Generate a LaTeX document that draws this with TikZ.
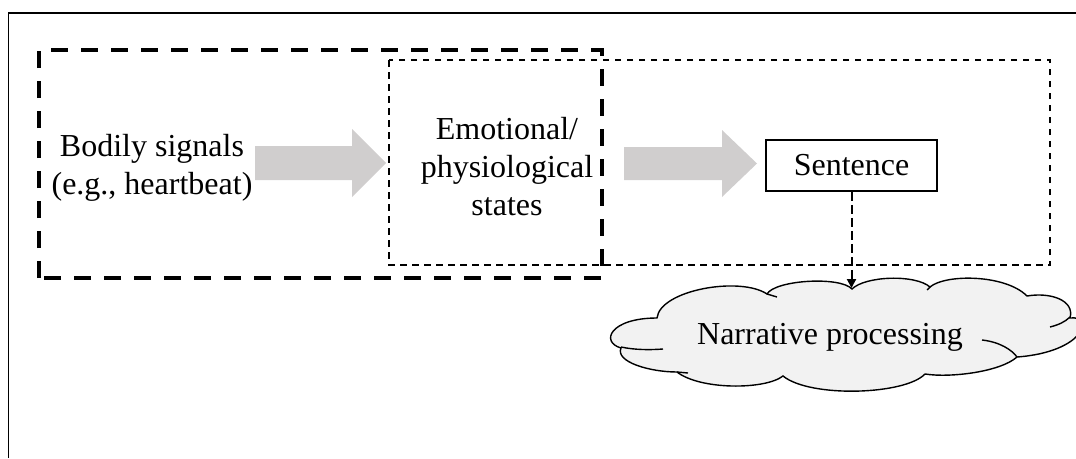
\documentclass[tikz,border=0pt]{standalone}
\usepackage{fontspec}
\setmainfont{Liberation Serif}
\usetikzlibrary{arrows.meta}
\definecolor{arrowgray}{HTML}{D0CECE}
\definecolor{cloudfill}{HTML}{F2F2F2}
\tikzset{
  lbl/.style={align=center, inner sep=0pt, font=\fontsize{32}{38}\selectfont},
  outerbox/.style={draw=black, line width=3.5pt, dash pattern=on 17pt off 13pt},
  innerbox/.style={draw=black, line width=1.3pt, dash pattern=on 6.5pt off 5.5pt},
  bigarrow/.style={fill=arrowgray, draw=none},
  sentbox/.style={draw=black, line width=1.5pt, minimum width=171pt, minimum height=51pt, inner sep=0pt, font=\fontsize{32}{38}\selectfont},
  cloudline/.style={draw=black, line width=1.4pt},
  linkarrow/.style={draw=black, line width=2pt, dash pattern=on 9pt off 4pt, -{Triangle[length=9pt,width=9pt]}}
}
\begin{document}
\begin{tikzpicture}[x=1pt, y=-1pt]
\useasboundingbox (0,0) rectangle (1076,458);
% outer frame
\draw[line width=1.4pt] (8.5,458) -- (8.5,13) -- (1076,13);
% thin dashed box
\draw[innerbox] (389,60) rectangle (1050,265);
% thick dashed box
\draw[outerbox] (39,278) -- (39,50) -- (602,50) -- (602,278) -- cycle;
% gray block arrows
\fill[bigarrow] (255,146) -- (352,146) -- (352,129) -- (386,163) -- (352,197) -- (352,180) -- (255,180) -- cycle;
\fill[bigarrow] (624,147) -- (722,147) -- (722,130) -- (757,163.5) -- (722,197) -- (722,180) -- (624,180) -- cycle;
% texts
\node[lbl] (bodily) at (152,168) {Bodily signals\\(e.g., heartbeat)};
\node[lbl] (emo) at (507,167) {Emotional/\\physiological\\states};
\node[sentbox] (sent) at (851.5,165.5) {Sentence};
% cloud
\path[fill=cloudfill, cloudline]
  (657,318) .. controls (660,290) and (740,276) .. (767,294)
  .. controls (775,280) and (840,276) .. (852,289)
  .. controls (865,276) and (915,274) .. (930,287)
  .. controls (945,274) and (1005,274) .. (1027,296)
  .. controls (1050,292) and (1075,300) .. (1070,318)
  .. controls (1095,315) and (1085,352) .. (1017,357)
  .. controls (1000,372) and (950,378) .. (925,374)
  .. controls (905,395) and (810,398) .. (783,376)
  .. controls (765,390) and (700,390) .. (677,372)
  .. controls (650,372) and (615,362) .. (621,348)
  .. controls (600,342) and (610,318) .. cycle;
\draw[cloudline] (621,347) .. controls (635,350) and (650,350) .. (663,349);
\draw[cloudline] (767,294) -- (777,297);
\draw[cloudline] (930,287) -- (927,290);
\draw[cloudline] (1070,317) .. controls (1065,322) and (1058,325) .. (1050,327);
\draw[cloudline] (982,340) .. controls (1000,342) and (1012,350) .. (1017,357);
\draw[cloudline] (677,372) -- (688,373);
\node[lbl] (narr) at (830,337) {Narrative processing};
\coordinate (cloudtop) at (851.5,288);
% dashed connector
\draw[linkarrow] (sent.south) -- (cloudtop);
\end{tikzpicture}
\end{document}
